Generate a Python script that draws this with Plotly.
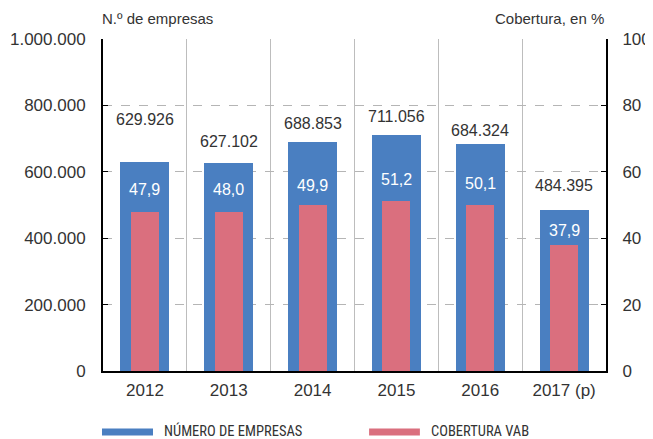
import plotly.graph_objects as go

years = ["2012", "2013", "2014", "2015", "2016", "2017 (p)"]
empresas = [629926, 627102, 688853, 711056, 684324, 484395]
cobertura = [47.9, 48.0, 49.9, 51.2, 50.1, 37.9]
left_ticks = [0, 200000, 400000, 600000, 800000, 1000000]
left_tick_text = ["0", "200.000", "400.000", "600.000", "800.000", "1.000.000"]
right_ticks = [0, 20, 40, 60, 80, 100]

BLUE = "#4a7fc1"
PINK = "#da6f7e"
TXT = "#333333"
FONT = "Liberation Sans, Arial, sans-serif"
NARROW = "Liberation Sans Narrow, Roboto Condensed, Roboto, sans-serif"

emp_shift = [42, 21, 19, 18, 13, 25]
cob_shift = [22, 22, 20, 22, 21, 15]

fig = go.Figure()
fig.add_trace(go.Bar(x=years, y=empresas, width=0.585, marker=dict(color=BLUE, line=dict(width=0)),
                     name="NÚMERO DE EMPRESAS", yaxis="y", showlegend=False, hoverinfo="skip"))
fig.add_trace(go.Bar(x=years, y=cobertura, width=0.334, marker=dict(color=PINK, line=dict(width=0)),
                     name="COBERTURA VAB", yaxis="y2", showlegend=False, hoverinfo="skip"))

ann = []
for i, (v, s) in enumerate(zip(empresas, emp_shift)):
    ann.append(dict(x=i, y=v, xref="x", yref="y", yshift=s, showarrow=False,
                    text=f"{v:,}".replace(",", "."), font=dict(family=FONT, size=16, color=TXT)))
for i, (v, s) in enumerate(zip(cobertura, cob_shift)):
    ann.append(dict(x=i, y=v, xref="x", yref="y2", yshift=s, showarrow=False,
                    text=f"{v:.1f}".replace(".", ","), font=dict(family=FONT, size=16, color="white")))

ann.append(dict(x=-0.006, y=1.0, xref="paper", yref="paper", yshift=21, xanchor="left", yanchor="middle",
                showarrow=False, text="N.º de empresas", font=dict(family=FONT, size=15, color=TXT)))
ann.append(dict(x=1.0, y=1.0, xref="paper", yref="paper", yshift=21, xanchor="right", yanchor="middle",
                showarrow=False, text="Cobertura, en %", font=dict(family=FONT, size=15, color=TXT)))

# legend
leg_y = -0.184
shapes = [
    dict(type="line", xref="paper", yref="paper", x0=-0.002, x1=0.0994, y0=leg_y, y1=leg_y,
         line=dict(color=BLUE, width=7)),
    dict(type="line", xref="paper", yref="paper", x0=0.529, x1=0.630, y0=leg_y, y1=leg_y,
         line=dict(color=PINK, width=7)),
]
ann.append(dict(x=0.119, y=leg_y, xref="paper", yref="paper", xanchor="left", yanchor="middle",
                showarrow=False, borderpad=0, yshift=1, text="NÚMERO DE EMPRESAS",
                font=dict(family=NARROW, size=14.5, color=TXT)))
ann.append(dict(x=0.650, y=leg_y, xref="paper", yref="paper", xanchor="left", yanchor="middle",
                showarrow=False, borderpad=0, yshift=1, text="COBERTURA VAB",
                font=dict(family=NARROW, size=14.5, color=TXT)))

fig.update_layout(
    width=645, height=431,
    margin=dict(l=95, r=47, t=31, b=68, autoexpand=False),
    paper_bgcolor="white", plot_bgcolor="white",
    barmode="overlay", bargap=0,
    separators=",.",
    font=dict(family=FONT, size=17, color=TXT),
    annotations=ann, shapes=shapes,
    xaxis=dict(type="category", range=[-0.5, 5.5], tickson="boundaries", showgrid=True, gridcolor="#bdbdbd",
               gridwidth=1, showline=True, linecolor="black", linewidth=2, ticks="",
               tickfont=dict(size=17, color=TXT), ticklabelstandoff=3, tickangle=0),
    yaxis=dict(range=[0, 1000000], tickvals=left_ticks, ticktext=left_tick_text, showgrid=True,
               gridcolor="#b5b5b5", griddash="dash", gridwidth=1, zeroline=False,
               showline=True, linecolor="black", linewidth=2, ticks="inside", ticklen=5, tickcolor="black",
               tickfont=dict(size=17, color=TXT), ticklabelstandoff=12),
    yaxis2=dict(range=[0, 100], tickvals=right_ticks, overlaying="y", side="right", showgrid=False,
                zeroline=False, showline=True, linecolor="black", linewidth=2, ticks="inside", ticklen=5,
                tickcolor="black", tickfont=dict(size=17, color=TXT), ticklabelstandoff=11),
)

fig.write_html("out.html")
